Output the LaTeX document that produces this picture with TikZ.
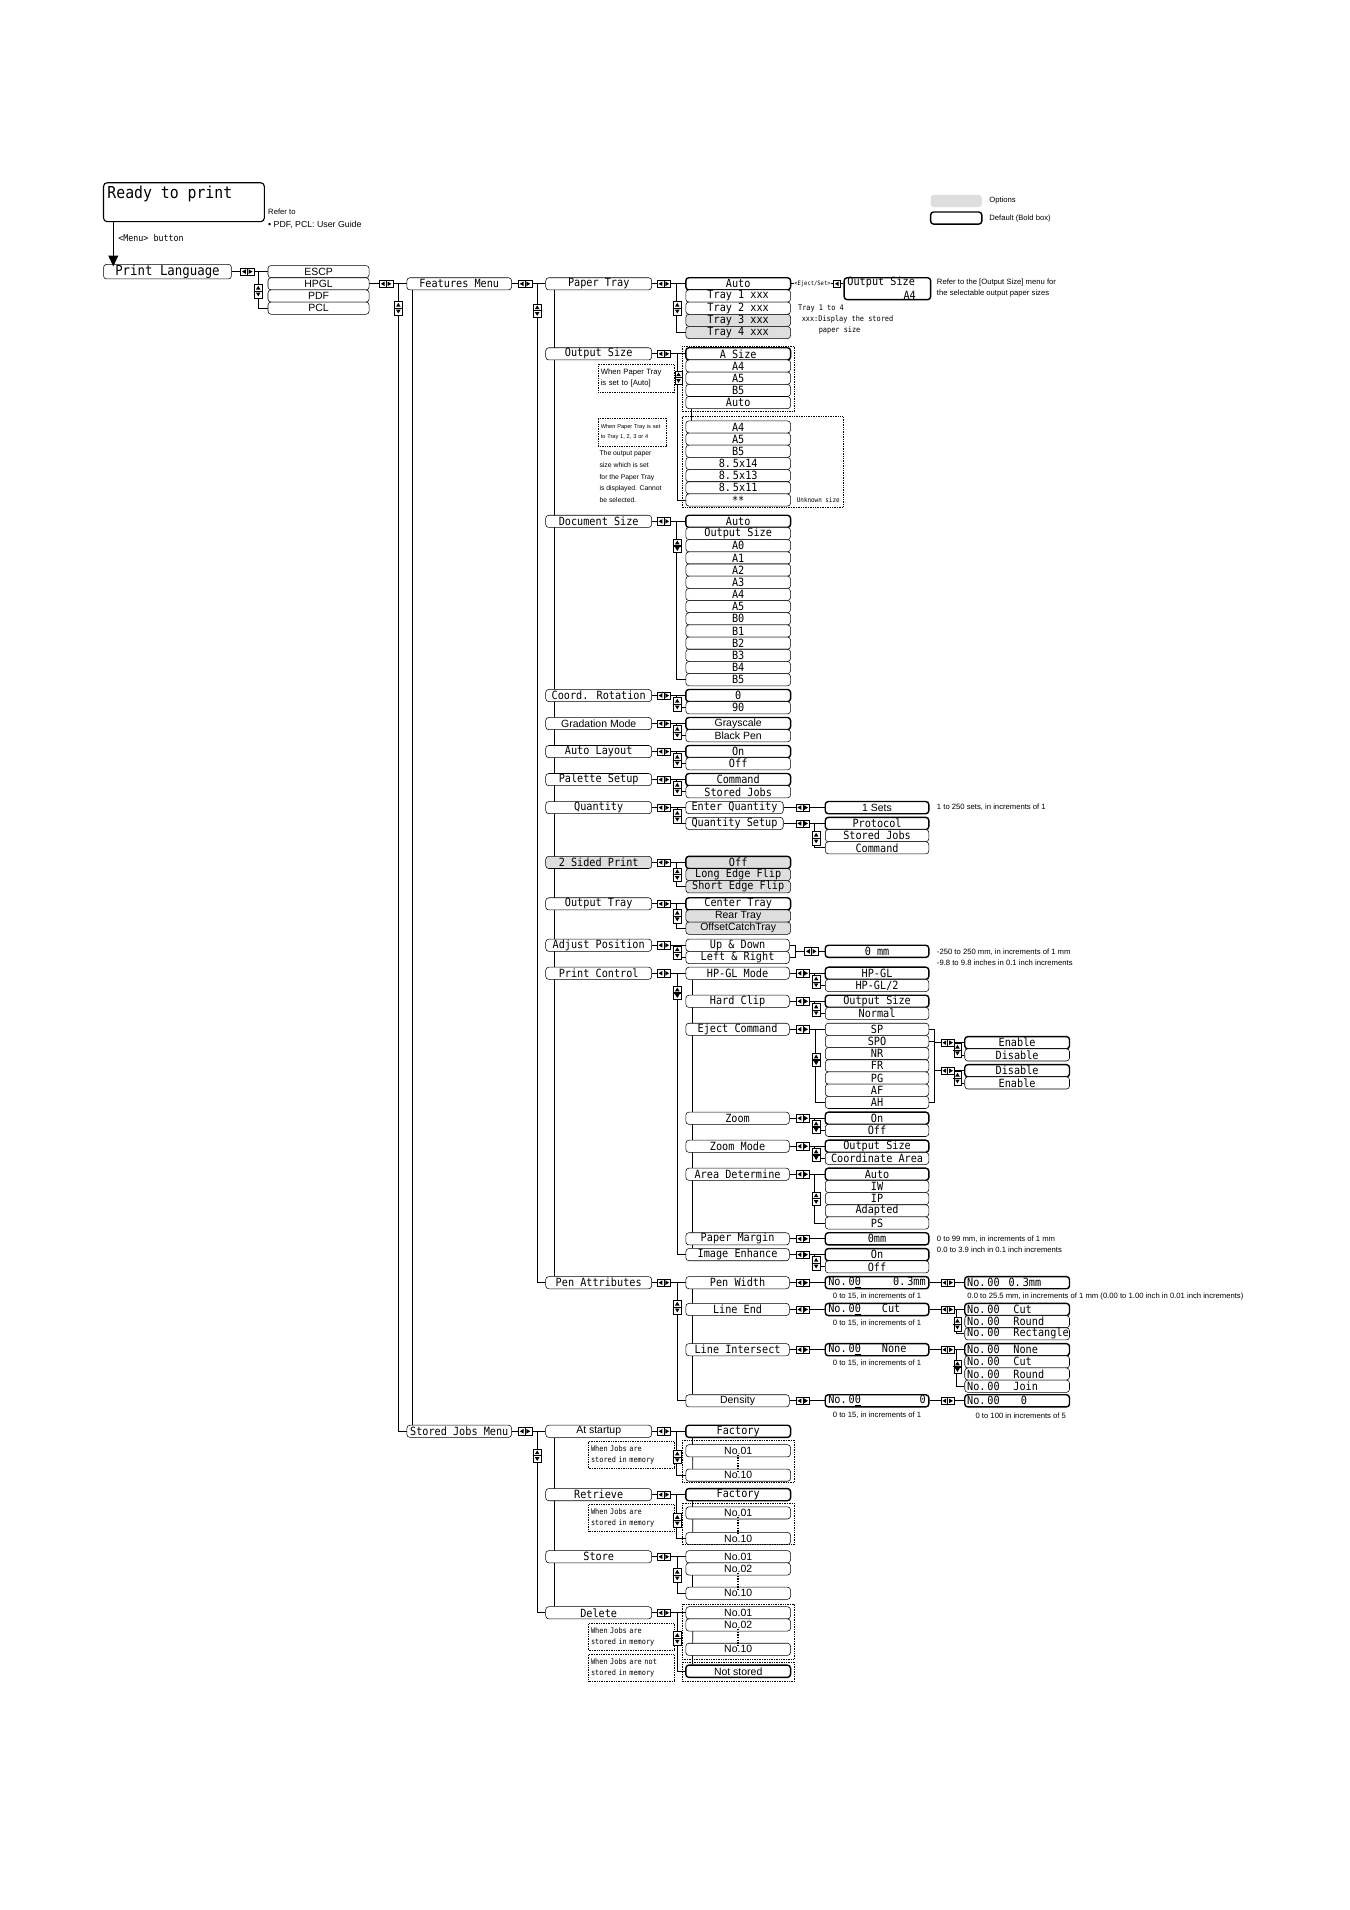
\documentclass[tikz,border=0pt]{standalone}
\usepackage{fontspec}
\setsansfont{Liberation Sans}
\newfontfamily\monoF[FakeStretch=0.9]{DejaVu Sans Mono}
\usetikzlibrary{arrows.meta}
\pgfdeclarelayer{bg}
\pgfdeclarelayer{paper}
\pgfsetlayers{paper,bg,main}
\newcommand\MonoF{\monoF\fontsize{9.3}{10}\selectfont}
\newcommand\BigMono{\monoF\fontsize{13.5}{14}\selectfont}
\newcommand\PLMono{\monoF\fontsize{11.3}{12}\selectfont}
\newcommand\SansF{\sffamily\fontsize{8.6}{10}\selectfont}
\newcommand\NoteS{\sffamily\fontsize{6.3}{9}\selectfont}
\newcommand\NoteM{\monoF\fontsize{6.3}{9}\selectfont}
\newcommand\NoteT{\sffamily\fontsize{4.6}{7.5}\selectfont}
\tikzset{
  b/.style={draw, rounded corners=2.5pt, fill=white, inner sep=0pt, minimum height=10pt, line width=0.45pt, font=\MonoF},
  bold/.style={line width=1.15pt},
  opt/.style={fill=black!13},
  sf/.style={font=\SansF},
  wA/.style={minimum width=83pt},
  wF/.style={minimum width=87pt},
  wV/.style={minimum width=86pt},
  wS/.style={minimum width=85pt},
  wW/.style={minimum width=85pt},
  wX/.style={minimum width=86pt},
  ln/.style={line width=0.6pt},
  note/.style={draw, line width=0.4pt, dash pattern=on 0.7pt off 0.7pt, inner sep=1.5pt, align=left, anchor=north west},
  dotbox/.style={line width=0.4pt, dash pattern=on 0.7pt off 0.7pt},
  txt/.style={inner sep=0pt, anchor=west},
  lr/.pic={
    \draw[line width=0.35pt, fill=white] (-5.5,-3) rectangle (0,3);
    \draw[line width=0.35pt, fill=white] (0,-3) rectangle (5.5,3);
    \fill (-1.2,-1.9) -- (-1.2,1.9) -- (-4.3,0) -- cycle;
    \fill (1.2,-1.9) -- (1.2,1.9) -- (4.3,0) -- cycle;},
  lt/.pic={
    \draw[line width=0.35pt, fill=white] (-2.75,-3) rectangle (2.75,3);
    \fill (1.5,-1.9) -- (1.5,1.9) -- (-1.6,0) -- cycle;},
  ud/.pic={
    \draw[line width=0.35pt, fill=white] (-3,-5.5) rectangle (3,0);
    \draw[line width=0.35pt, fill=white] (-3,0) rectangle (3,5.5);
    \draw[line width=0.5pt] (-3.8,0) -- (3.8,0);
    \fill (-1.9,-1.2) -- (1.9,-1.2) -- (0,-4.3) -- cycle;
    \fill (-1.9,1.2) -- (1.9,1.2) -- (0,4.3) -- cycle;},
}
\begin{document}
\begin{tikzpicture}[x=1pt,y=-1pt]
\begin{pgfonlayer}{paper}
\fill[white] (0,0) rectangle (1108,1568);
\end{pgfonlayer}
\useasboundingbox (0,0) rectangle (1108,1568);

% ---------- top ----------
\node[draw, rounded corners=3pt, line width=0.9pt, minimum width=132pt, minimum height=32pt, inner sep=0pt] (RTP) at (151,166) {};
\node[txt, font=\BigMono] (RTPt) at (88,159) {Ready to print};
\node[txt, font=\NoteS] (ref1) at (220,173.5) {Refer to};
\node[txt, font=\sffamily\fontsize{7.2}{9}\selectfont] (ref2) at (220,185) {• PDF, PCL: User Guide};
\coordinate (ax) at (93,0);
\node[txt, font=\monoF\fontsize{7.6}{9}\selectfont] (menub) at (97,195.5) {<Menu> button};
\node[b, minimum width=105pt, minimum height=12pt, font=\PLMono] (PLang) at (137.5,223) {Print Language};
\draw[line width=1.2pt, -{Triangle[length=9pt,width=8pt]}] (RTP.south -| ax) -- ([yshift=-2pt]PLang.north -| ax);

% legend
\node[fill=black!13, rounded corners=2.5pt, minimum width=42pt, minimum height=10pt, inner sep=0pt] (LGo) at (785,165) {};
\node[b, bold, minimum width=42pt] (LGd) at (785,179) {};
\node[txt, font=\NoteS] (LGot) at (812,165) {Options};
\node[txt, font=\NoteS] (LGdt) at (812,179) {Default (Bold box)};

% ---------- print language ----------
\node[b, sf, wA] (ESCP) at (261.5,223) {ESCP};
\node[b, sf, wA] (HPGL) at (261.5,233) {HPGL};
\node[b, sf, wA] (PDF) at (261.5,243) {PDF};
\node[b, sf, wA] (PCL) at (261.5,253) {PCL};

\node[b, minimum width=86pt] (FM) at (377,233) {Features Menu};
\node[b, minimum width=86pt] (SJM) at (377,1175) {Stored Jobs Menu};

% ---------- level 3 ----------
\node[b, wF] (PT) at (491.5,233) {Paper Tray};
\node[b, wF] (OS) at (491.5,290.5) {Output Size};
\node[b, wF] (DS) at (491.5,428) {Document Size};
\node[b, wF] (CR) at (491.5,571) {Coord. Rotation};
\node[b, wF, sf] (GM) at (491.5,594) {Gradation Mode};
\node[b, wF] (AL) at (491.5,617) {Auto Layout};
\node[b, wF] (PS) at (491.5,640) {Palette Setup};
\node[b, wF] (QT) at (491.5,663) {Quantity};
\node[b, wF, opt] (TS) at (491.5,708) {2 Sided Print};
\node[b, wF] (OT) at (491.5,742) {Output Tray};
\node[b, wF] (AP) at (491.5,776) {Adjust Position};
\node[b, wF] (PC) at (491.5,799) {Print Control};
\node[b, wF] (PA) at (491.5,1053) {Pen Attributes};
\node[b, wF, sf] (SA) at (491.5,1175) {At startup};
\node[b, wF] (SR) at (491.5,1227) {Retrieve};
\node[b, wF] (SS) at (491.5,1278) {Store};
\node[b, wF] (SD) at (491.5,1324) {Delete};

% ---------- paper tray ----------
\node[b, wV, bold] (PT1) at (606,233) {Auto};
\node[b, wV] (PT2) at (606,243) {Tray 1 xxx};
\node[b, wV] (PT3) at (606,253) {Tray 2 xxx};
\node[b, wV, opt] (PT4) at (606,263) {Tray 3 xxx};
\node[b, wV, opt] (PT5) at (606,273) {Tray 4 xxx};
\node[b, bold, minimum width=71pt, minimum height=18pt] (OSZ) at (728.5,237) {};
\node[txt, font=\MonoF] (OSZa) at (695.5,232) {Output Size};
\node[inner sep=0pt, anchor=east, font=\MonoF] (OSZb) at (752,242.5) {A4};
\node[fill=white, inner sep=0.3pt, font=\monoF\fontsize{5}{6}\selectfont] (EJS) at (667,233) {<Eject/Set>};
\node[txt, font=\NoteS, align=left] (OSref) at (769,236.5) {Refer to the [Output Size] menu for\\the selectable output paper sizes};
\node[txt, font=\NoteM] (tr1) at (655,253.5) {Tray 1 to 4};
\node[txt, font=\NoteM] (tr2) at (658,262.5) {xxx:Display the stored};
\node[txt, font=\NoteM] (tr3) at (672,271.5) {paper size};

% ---------- output size ----------
\node[b, wV, bold] (OS1) at (606,290.5) {A Size};
\node[b, wV] (OS2) at (606,300.5) {A4};
\node[b, wV] (OS3) at (606,310.5) {A5};
\node[b, wV] (OS4) at (606,320.5) {B5};
\node[b, wV] (OS5) at (606,330.5) {Auto};
\node[b, wV] (OS6) at (606,350.5) {A4};
\node[b, wV] (OS7) at (606,360.5) {A5};
\node[b, wV] (OS8) at (606,370.5) {B5};
\node[b, wV] (OS9) at (606,380.5) {8.\,5x14};
\node[b, wV] (OS10) at (606,390.5) {8.\,5x13};
\node[b, wV] (OS11) at (606,400.5) {8.\,5x11};
\node[b, wV] (OS12) at (606,410.5) {**};
\draw[dotbox] (560,284) rectangle (652,338);
\draw[dotbox] (560,342) rectangle (692,416.5);
\node[txt, font=\monoF\fontsize{5.4}{6}\selectfont] (unk) at (654,410.5) {Unknown size};
\node[note, font=\NoteS, minimum width=62pt, minimum height=23pt, text width=58pt] (N1) at (491,299) {When Paper Tray\\is set to [Auto]};
\node[note, font=\NoteT, minimum width=56pt, minimum height=23pt, text width=52pt] (N2) at (491,343) {When Paper Tray is set\\to Tray 1, 2, 3 or 4};
\node[inner sep=0pt, anchor=north west, align=left, font=\sffamily\fontsize{5.6}{9.6}\selectfont] (N3) at (492,370) {The output paper\\size which is set\\for the Paper Tray\\is displayed. Cannot\\be selected.};

% ---------- document size ----------
\node[b, wV, bold] (DS1) at (606,428) {Auto};
\node[b, wV] (DS2) at (606,438) {Output Size};
\node[b, wV] (DS3) at (606,448) {A0};
\node[b, wV] (DS4) at (606,458) {A1};
\node[b, wV] (DS5) at (606,468) {A2};
\node[b, wV] (DS6) at (606,478) {A3};
\node[b, wV] (DS7) at (606,488) {A4};
\node[b, wV] (DS8) at (606,498) {A5};
\node[b, wV] (DS9) at (606,508) {B0};
\node[b, wV] (DS10) at (606,518) {B1};
\node[b, wV] (DS11) at (606,528) {B2};
\node[b, wV] (DS12) at (606,538) {B3};
\node[b, wV] (DS13) at (606,548) {B4};
\node[b, wV] (DS14) at (606,558) {B5};

% ---------- simple pairs ----------
\node[b, wV, bold] (CR1) at (606,571) {0};
\node[b, wV] (CR2) at (606,581) {90};
\node[b, wV, bold, sf] (GM1) at (606,594) {Grayscale};
\node[b, wV, sf] (GM2) at (606,604) {Black Pen};
\node[b, wV, bold] (AL1) at (606,617) {On};
\node[b, wV] (AL2) at (606,627) {Off};
\node[b, wV, bold] (PS1) at (606,640) {Command};
\node[b, wV] (PS2) at (606,650) {Stored Jobs};

% ---------- quantity ----------
\node[b, minimum width=80pt] (EQ) at (603,663) {Enter Quantity};
\node[b, minimum width=80pt] (QS) at (603,676) {Quantity Setup};
\node[b, wW, bold, sf] (EQ1) at (720,663) {1 Sets};
\node[txt, font=\NoteS] (EQn) at (769,663) {1 to 250 sets, in increments of 1};
\node[b, wW, bold] (QS1) at (720,676) {Protocol};
\node[b, wW] (QS2) at (720,686) {Stored Jobs};
\node[b, wW] (QS3) at (720,696) {Command};

% ---------- 2 sided / output tray ----------
\node[b, wV, bold, opt] (TS1) at (606,708) {Off};
\node[b, wV, opt] (TS2) at (606,718) {Long Edge Flip};
\node[b, wV, opt] (TS3) at (606,728) {Short Edge Flip};
\node[b, wV, bold] (OT1) at (606,742) {Center Tray};
\node[b, wV, opt, sf] (OT2) at (606,752) {Rear Tray};
\node[b, wV, opt, sf] (OT3) at (606,762) {OffsetCatchTray};

% ---------- adjust position ----------
\node[b, wS] (AP1) at (605.5,776) {Up \& Down};
\node[b, wS] (AP2) at (605.5,786) {Left \& Right};
\node[b, wW, bold] (APv) at (720,781) {0 mm};
\coordinate (APj) at (653,781);
\node[txt, font=\NoteS, align=left] (APn) at (769,785.5) {-250 to 250 mm, in increments of 1 mm\\-9.8 to 9.8 inches in 0.1 inch increments};

% ---------- print control ----------
\node[b, wS] (HG) at (605.5,799) {HP-GL Mode};
\node[b, wS] (HC) at (605.5,822) {Hard Clip};
\node[b, wS] (EC) at (605.5,845) {Eject Command};
\node[b, wS] (ZM) at (605.5,918) {Zoom};
\node[b, wS] (ZD) at (605.5,941) {Zoom Mode};
\node[b, wS] (AD) at (605.5,964) {Area Determine};
\node[b, wS] (PM) at (605.5,1017) {Paper Margin};
\node[b, wS] (IE) at (605.5,1030) {Image Enhance};

\node[b, wW, bold] (HG1) at (720,799) {HP-GL};
\node[b, wW] (HG2) at (720,809) {HP-GL/2};
\node[b, wW, bold] (HC1) at (720,822) {Output Size};
\node[b, wW] (HC2) at (720,832) {Normal};
\node[b, wW] (EC1) at (720,845) {SP};
\node[b, wW] (EC2) at (720,855) {SPO};
\node[b, wW] (EC3) at (720,865) {NR};
\node[b, wW] (EC4) at (720,875) {FR};
\node[b, wW] (EC5) at (720,885) {PG};
\node[b, wW] (EC6) at (720,895) {AF};
\node[b, wW] (EC7) at (720,905) {AH};
\node[b, wX, bold] (EN1) at (835,856) {Enable};
\node[b, wX] (EN2) at (835,866) {Disable};
\node[b, wX, bold] (DI1) at (835,879) {Disable};
\node[b, wX] (DI2) at (835,889) {Enable};
\coordinate (EJt) at (767,856);
\coordinate (EJb) at (767,879);
\node[b, wW, bold] (ZM1) at (720,918) {On};
\node[b, wW] (ZM2) at (720,928) {Off};
\node[b, wW, bold] (ZD1) at (720,941) {Output Size};
\node[b, wW] (ZD2) at (720,951) {Coordinate Area};
\node[b, wW, bold] (AD1) at (720,964) {Auto};
\node[b, wW] (AD2) at (720,974) {IW};
\node[b, wW] (AD3) at (720,984) {IP};
\node[b, wW] (AD4) at (720,994) {Adapted};
\node[b, wW] (AD5) at (720,1004) {PS};
\node[b, wW, bold] (PM1) at (720,1017) {0mm};
\node[txt, font=\NoteS, align=left] (PMn) at (769,1021.5) {0 to 99 mm, in increments of 1 mm\\0.0 to 3.9 inch in 0.1 inch increments};
\node[b, wW, bold] (IE1) at (720,1030) {On};
\node[b, wW] (IE2) at (720,1040) {Off};

% ---------- pen attributes ----------
\node[b, wS] (PW) at (605.5,1053) {Pen Width};
\node[b, wS] (LE) at (605.5,1075) {Line End};
\node[b, wS] (LI) at (605.5,1108) {Line Intersect};
\node[b, wS, sf] (DN) at (605.5,1150) {Density};

\node[b, wW, bold, text width=80pt] (PW1) at (720,1053) {No.\,0\underline{0}\hfill 0.\,3mm\hspace*{2pt}};
\node[b, wX, bold, text width=82pt] (PW2) at (835,1053) {\makebox[34pt][l]{No.\,00}0.\,3mm};
\node[inner sep=0pt, font=\NoteS] (PWn1) at (720,1064) {0 to 15, in increments of 1};
\node[txt, font=\NoteS] (PWn2) at (794,1064) {0.0 to 25.5 mm, in increments of 1 mm (0.00 to 1.00 inch in 0.01 inch increments)};

\node[b, wW, bold, text width=80pt] (LE1) at (720,1075) {\makebox[44pt][l]{No.\,0\underline{0}}Cut};
\node[b, wX, bold, text width=82pt] (LE2) at (835,1075) {\makebox[38pt][l]{No.\,00}Cut};
\node[b, wX, text width=82pt] (LE3) at (835,1085) {\makebox[38pt][l]{No.\,00}Round};
\node[b, wX, text width=82pt] (LE4) at (835,1095) {\makebox[38pt][l]{No.\,00}Rectangle};
\node[inner sep=0pt, font=\NoteS] (LEn) at (720,1086) {0 to 15, in increments of 1};

\node[b, wW, bold, text width=80pt] (LI1) at (720,1108) {\makebox[44pt][l]{No.\,0\underline{0}}None};
\node[b, wX, bold, text width=82pt] (LI2) at (835,1108) {\makebox[38pt][l]{No.\,00}None};
\node[b, wX, text width=82pt] (LI3) at (835,1118) {\makebox[38pt][l]{No.\,00}Cut};
\node[b, wX, text width=82pt] (LI4) at (835,1128) {\makebox[38pt][l]{No.\,00}Round};
\node[b, wX, text width=82pt] (LI5) at (835,1138) {\makebox[38pt][l]{No.\,00}Join};
\node[inner sep=0pt, font=\NoteS] (LIn) at (720,1119) {0 to 15, in increments of 1};

\node[b, wW, bold, text width=80pt] (DN1) at (720,1150) {No.\,0\underline{0}\hfill 0\hspace*{10pt}};
\node[b, wX, bold, text width=82pt] (DN2) at (835,1150) {\makebox[44pt][l]{No.\,00}0};
\node[inner sep=0pt, font=\NoteS] (DNn1) at (720,1162) {0 to 15, in increments of 1};
\node[inner sep=0pt, font=\NoteS] (DNn2) at (838,1162) {0 to 100 in increments of 5};

% ---------- stored jobs ----------
\node[b, wV, bold] (SA1) at (606,1175) {Factory};
\node[b, wV, sf] (SA2) at (606,1191) {No.01};
\node[b, wV, sf] (SA3) at (606,1211) {No.10};
\node[b, wV, bold] (SR1) at (606,1227) {Factory};
\node[b, wV, sf] (SR2) at (606,1242) {No.01};
\node[b, wV, sf] (SR3) at (606,1263) {No.10};
\node[b, wV, sf] (SS1) at (606,1278) {No.01};
\node[b, wV, sf] (SS2) at (606,1288) {No.02};
\node[b, wV, sf] (SS3) at (606,1308) {No.10};
\node[b, wV, sf] (SD1) at (606,1324) {No.01};
\node[b, wV, sf] (SD2) at (606,1334) {No.02};
\node[b, wV, sf] (SD3) at (606,1354) {No.10};
\node[b, wV, sf, bold] (SD4) at (606,1372) {Not stored};
\draw[dotbox] (560,1182) rectangle (652,1217);
\draw[dotbox] (560,1234) rectangle (652,1268);
\draw[dotbox] (560,1317) rectangle (652,1362);
\draw[dotbox] (560,1364.5) rectangle (652,1380.5);
\node[note, font=\NoteM, minimum width=70pt, minimum height=22pt, text width=66pt] (NA) at (483,1183) {When Jobs are\\stored in memory};
\node[note, font=\NoteM, minimum width=70pt, minimum height=22pt, text width=66pt] (NR) at (483,1235) {When Jobs are\\stored in memory};
\node[note, font=\NoteM, minimum width=70pt, minimum height=22pt, text width=66pt] (ND1) at (483,1332.5) {When Jobs are\\stored in memory};
\node[note, font=\NoteM, minimum width=70pt, minimum height=22pt, text width=66pt] (ND2) at (483,1358) {When Jobs are not\\stored in memory};

% ---------- connectors (background) ----------
\begin{pgfonlayer}{bg}
\begin{scope}[ln]
\draw (PLang.east) -- (ESCP.west);
\draw ([xshift=-8pt]ESCP.west) |- (PCL.west);
\draw (HPGL.east) -- (FM.west);
\draw ([xshift=-7pt]FM.west) |- (SJM.west);
\draw ([xshift=5pt]FM.south west) -- ([xshift=5pt]SJM.north west);
\draw (FM.east) -- (PT.west);
\draw ([xshift=-7pt]PT.west) |- (PA.west);
\draw ([xshift=7pt]PT.south west) -- ([xshift=7pt]PA.north west);
\draw (SJM.east) -- (SA.west);
\draw ([xshift=-7pt]SA.west) |- (SD.west);
\draw ([xshift=7pt]SA.south west) -- ([xshift=7pt]SD.north west);
% paper tray
\draw (PT.east) -- (PT1.west);
\draw ([xshift=-7pt]PT1.west) |- (PT5.west);
\draw (PT1.east) -- (PT1.east -| OSZ.west);
% output size
\draw (OS.east) -- (OS1.west);
\draw ([xshift=-6pt]OS1.west) |- (OS12.west);
\draw ([xshift=5pt]OS5.south west) -- ([xshift=5pt]OS6.north west);
% document size
\draw (DS.east) -- (DS1.west);
\draw ([xshift=-7pt]DS1.west) |- (DS14.west);
% pairs
\draw (CR.east) -- (CR1.west);  \draw ([xshift=-7pt]CR1.west) |- (CR2.west);
\draw (GM.east) -- (GM1.west);  \draw ([xshift=-7pt]GM1.west) |- (GM2.west);
\draw (AL.east) -- (AL1.west);  \draw ([xshift=-7pt]AL1.west) |- (AL2.west);
\draw (PS.east) -- (PS1.west);  \draw ([xshift=-7pt]PS1.west) |- (PS2.west);
% quantity
\draw (QT.east) -- (EQ.west);   \draw ([xshift=-7pt]EQ.west) |- (QS.west);
\draw (EQ.east) -- (EQ1.west);
\draw (QS.east) -- (QS1.west);  \draw ([xshift=-8pt]QS1.west) |- (QS3.west);
% 2 sided, output tray
\draw (TS.east) -- (TS1.west);  \draw ([xshift=-7pt]TS1.west) |- (TS3.west);
\draw (OT.east) -- (OT1.west);  \draw ([xshift=-7pt]OT1.west) |- (OT3.west);
% adjust position
\draw (AP.east) -- (AP1.west);  \draw ([xshift=-7pt]AP1.west) |- (AP2.west);
\draw (AP1.east) -| (APj) |- (AP2.east);
\draw (APj) -- (APv.west);
% print control
\draw (PC.east) -- (HG.west);   \draw ([xshift=-7pt]HG.west) |- (IE.west);
\draw ([xshift=6pt]HG.south west) -- ([xshift=6pt]IE.north west);
\draw (HG.east) -- (HG1.west);  \draw ([xshift=-8pt]HG1.west) |- (HG2.west);
\draw (HC.east) -- (HC1.west);  \draw ([xshift=-8pt]HC1.west) |- (HC2.west);
\draw (EC.east) -- (EC1.west);  \draw ([xshift=-8pt]EC1.west) |- (EC7.west);
\draw (EC1.east) -| (EJt) -- (EJb) |- (EC7.east);
\draw (EC2.east) -- (EC2.east -| EJt);
\draw (EJt) -- (EN1.west);      \draw ([xshift=-6pt]EN1.west) |- (EN2.west);
\draw (EJb) -- (DI1.west);      \draw ([xshift=-6pt]DI1.west) |- (DI2.west);
\draw (ZM.east) -- (ZM1.west);  \draw ([xshift=-8pt]ZM1.west) |- (ZM2.west);
\draw (ZD.east) -- (ZD1.west);  \draw ([xshift=-8pt]ZD1.west) |- (ZD2.west);
\draw (AD.east) -- (AD1.west);  \draw ([xshift=-8pt]AD1.west) |- (AD5.west);
\draw (PM.east) -- (PM1.west);
\draw (IE.east) -- (IE1.west);  \draw ([xshift=-8pt]IE1.west) |- (IE2.west);
% pen attributes
\draw (PA.east) -- (PW.west);   \draw ([xshift=-7pt]PW.west) |- (DN.west);
\draw ([xshift=6pt]PW.south west) -- ([xshift=6pt]DN.north west);
\draw (PW.east) -- (PW1.west);  \draw (PW1.east) -- (PW2.west);
\draw (LE.east) -- (LE1.west);  \draw (LE1.east) -- (LE2.west);
\draw ([xshift=-6pt]LE2.west) |- (LE4.west);
\draw (LI.east) -- (LI1.west);  \draw (LI1.east) -- (LI2.west);
\draw ([xshift=-6pt]LI2.west) |- (LI5.west);
\draw (DN.east) -- (DN1.west);  \draw (DN1.east) -- (DN2.west);
% stored jobs
\draw (SA.east) -- (SA1.west);  \draw ([xshift=-7pt]SA1.west) |- (SA3.west);
\draw ([xshift=6pt]SA1.south west) -- ([xshift=6pt]SA3.north west);
\draw (SR.east) -- (SR1.west);  \draw ([xshift=-7pt]SR1.west) |- (SR3.west);
\draw ([xshift=6pt]SR1.south west) -- ([xshift=6pt]SR3.north west);
\draw (SS.east) -- (SS1.west);  \draw ([xshift=-7pt]SS1.west) |- (SS3.west);
\draw ([xshift=6pt]SS2.south west) -- ([xshift=6pt]SS3.north west);
\draw (SD.east) -- (SD1.west);  \draw ([xshift=-7pt]SD1.west) |- (SD4.west);
\draw ([xshift=6pt]SD1.south west) -- ([xshift=6pt]SD4.north west);
\end{scope}
\end{pgfonlayer}

% vertical dots
\draw[line width=1.3pt, dash pattern=on 1.1pt off 1.1pt] ([yshift=2pt]SA2.south) -- ([yshift=-2pt]SA3.north);
\draw[line width=1.3pt, dash pattern=on 1.1pt off 1.1pt] ([yshift=2pt]SR2.south) -- ([yshift=-2pt]SR3.north);
\draw[line width=1.3pt, dash pattern=on 1.1pt off 1.1pt] ([yshift=2pt]SS2.south) -- ([yshift=-2pt]SS3.north);
\draw[line width=1.3pt, dash pattern=on 1.1pt off 1.1pt] ([yshift=2pt]SD2.south) -- ([yshift=-2pt]SD3.north);

% ---------- icons ----------
\pic at (203,223) {lr};   \pic at (212,239) {ud};
\pic at (317,233) {lr};   \pic at (327,253) {ud};
\pic at (431,233) {lr};   \pic at (441,255) {ud};
\pic at (431,1175) {lr};  \pic at (441,1195) {ud};
\pic at (687,233) {lt};
\foreach \yy in {233,290.5,428,571,594,617,640,663,708,742,776,799,1053,1175,1227,1278,1324} {\pic at (545,\yy) {lr};}
\foreach \yy/\xx in {253/556,310/557,448/556,578/556,601/556,624/556,647/556,670/556,718/556,752/556,782/556,815/556,1073/556,1196/556,1248/556,1293/556,1345/556} {\pic at (\xx,\yy) {ud};}
\foreach \yy in {663,676,799,822,845,918,941,964,1017,1030,1053,1075,1108,1150} {\pic at (659,\yy) {lr};}
\pic at (666,781) {lr};
\foreach \yy in {688,806,829,870,925,948,984,1037} {\pic at (670,\yy) {ud};}
\foreach \yy in {856,879,1053,1075,1108,1150} {\pic at (778,\yy) {lr};}
\foreach \yy in {862,885,1087,1122} {\pic at (786,\yy) {ud};}
\end{tikzpicture}
\end{document}
